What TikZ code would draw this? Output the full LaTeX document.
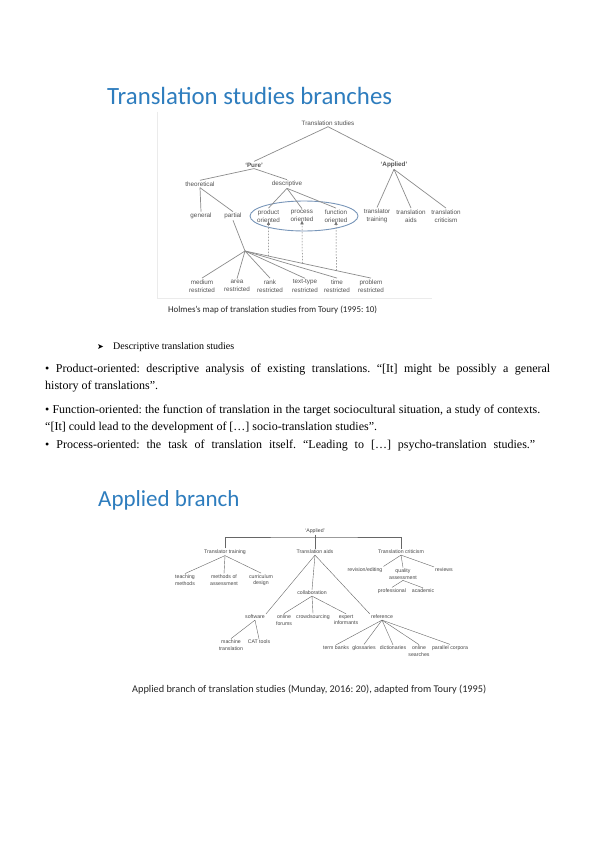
\documentclass[tikz,border=0pt]{standalone}
\usepackage{fontspec}
\setmainfont{Liberation Serif}
\setsansfont{Liberation Sans}
\newfontfamily\calibri{Carlito}
\newfontfamily\dejavu{DejaVu Sans}
\usetikzlibrary{arrows.meta,calc}
\definecolor{titleblue}{RGB}{46,125,190}
\definecolor{ellblue}{RGB}{120,150,185}
\frenchspacing
\begin{document}
\begin{tikzpicture}[x=1pt,y=-1pt,
  tl/.style={font=\sffamily\fontsize{6.3}{8.4}\selectfont, text=black!68, inner sep=1.2pt, align=center},
  tline/.style={draw=black!45, line width=0.7pt},
  dline/.style={draw=black!55, line width=0.5pt, dash pattern=on 1.5pt off 1.5pt, -{Latex[length=4pt,width=3.5pt]}, shorten >=-3pt},
  bl/.style={font=\sffamily\fontsize{5.2}{6.6}\selectfont, text=black!72, inner sep=1pt, align=center},
  bline/.style={draw=black!60, line width=0.4pt},
  body/.style={font=\fontsize{12}{14}\selectfont\frenchspacing, anchor=west, inner sep=0pt},
  ttl/.style={font=\calibri\fontsize{24.8}{28}\selectfont, text=titleblue, anchor=west, inner sep=0pt},
  capt/.style={font=\calibri\fontsize{8.9}{10}\selectfont, text=black!85, anchor=west, inner sep=0pt},
]
\useasboundingbox[fill=white] (0,0) rectangle (599,848);

% ---------- top diagram ----------
\node[ttl] (t1) at (107,96) {Translation studies branches};
\draw[black!8, line width=0.6pt] (157,112) -- (157,298) -- (432,298);

\node[tl] (ts) at (328,123) {Translation studies};
\node[tl] (pure) at (254,165) {\textbf{‘Pure’}};
\node[tl] (appl) at (394,165) {\textbf{‘Applied’}};
\node[tl] (theo) at (200,184) {theoretical};
\node[tl] (desc) at (287,184) {descriptive};
\node[tl] (gen) at (201,216) {general};
\node[tl] (part) at (233,216) {partial};
\node[tl] (prod) at (268.5,216) {product\\oriented};
\node[tl] (proc) at (302,216) {process\\oriented};
\node[tl] (func) at (336,216) {function\\oriented};
\node[tl] (ttr) at (377,216) {translator\\training};
\node[tl] (taid) at (411,216) {translation\\aids};
\node[tl] (tcri) at (446,216) {translation\\criticism};
\coordinate (hub) at (245,251);
\node[tl] (med) at (202,286) {medium\\restricted};
\node[tl] (area) at (237,286) {area\\restricted};
\node[tl] (rank) at (270,286) {rank\\restricted};
\node[tl] (ttyp) at (305,286) {text-type\\restricted};
\node[tl] (tme) at (337,286) {time\\restricted};
\node[tl] (prob) at (371,286) {problem\\restricted};

\draw[ellblue, line width=0.9pt] (304,216) ellipse [x radius=54, y radius=15];

\draw[tline] (ts.south) -- (pure.north);
\draw[tline] (ts.south) -- (appl.north);
\draw[tline] (pure.south) -- (theo.north);
\draw[tline] (pure.south) -- (desc.north);
\draw[tline] (theo.south) -- (gen.north);
\draw[tline] (theo.south) -- (part.north);
\draw[tline] (desc.south) -- (prod.north);
\draw[tline] (desc.south) -- (proc.north);
\draw[tline] (desc.south) -- (func.north);
\draw[tline] (appl.south) -- (ttr.north);
\draw[tline] (appl.south) -- (taid.north);
\draw[tline] (appl.south) -- (tcri.north);
\draw[tline] (part.south) -- (hub);
\foreach \n in {med,area,rank,ttyp,tme,prob} \draw[tline] (hub) -- (\n.north);
\path (hub) -- (prob.north) coordinate[pos=0.187] (d1) coordinate[pos=0.455] (d2) coordinate[pos=0.725] (d3);
\draw[dline] (d1) -- (prod.south);
\draw[dline] (d2) -- (proc.south);
\draw[dline] (d3) -- (func.south);

\node[capt] (c1) at (168,310) {Holmes’s map of translation studies from Toury (1995: 10)};

% ---------- body text ----------
\node[font=\dejavu\fontsize{8}{8}\selectfont, inner sep=0pt, anchor=west] (ar) at (97,347) {➤};
\node[body, font=\fontsize{10}{12}\selectfont] (h) at (113,347) {Descriptive translation studies};
\node[body] (l1) at (45,370) {\hbox to 505pt{• Product-oriented: descriptive analysis of existing translations. “[It] might be possibly a general}};
\node[body] (l2) at (45,387) {history of translations”.};
\node[body] (l3) at (45,411) {\hbox to 495pt{• Function-oriented: the function of translation in the target sociocultural situation, a study of contexts.}};
\node[body] (l4) at (45,428) {“[It] could lead to the development of […] socio-translation studies”.};
\node[body] (l5) at (45,446) {\hbox to 490pt{• Process-oriented: the task of translation itself. “Leading to […] psycho-translation studies.”}};

% ---------- bottom diagram ----------
\node[ttl, font=\calibri\fontsize{23}{26}\selectfont] (t2) at (98,500) {Applied branch};

\node[bl] (ap) at (315,531) {‘Applied’};
\coordinate (bar) at (315,537);
\node[bl] (btt) at (225,552) {Translator training};
\node[bl] (bta) at (315,552) {Translation aids};
\node[bl] (btc) at (401,552) {Translation criticism};

\node[bl] (teach) at (185,580) {teaching\\methods};
\node[bl] (meth) at (224,580) {methods of\\assessment};
\node[bl] (curr) at (261,580) {curriculum\\design};

\node[bl] (rev) at (365,570) {revision/editing};
\node[bl] (qual) at (403,574) {quality\\assessment};
\node[bl] (revw) at (444,570) {reviews};
\node[bl] (prof) at (392,591) {professional};
\node[bl] (acad) at (423,591) {academic};

\node[bl] (coll) at (312,593) {collaboration};
\node[bl] (soft) at (255,617) {software};
\node[bl] (ofor) at (284,620) {online\\forums};
\node[bl] (crowd) at (313,617) {crowdsourcing};
\node[bl] (expt) at (346,620) {expert\\informants};
\node[bl] (ref) at (382,617) {reference};

\node[bl] (mt) at (231,645) {machine\\translation};
\node[bl] (cat) at (259,642) {CAT tools};
\node[bl] (tb) at (336,648) {term banks};
\node[bl] (glo) at (364,648) {glossaries};
\node[bl] (dic) at (393,648) {dictionaries};
\node[bl] (ons) at (419,651) {online\\searches};
\node[bl] (pc) at (450,648) {parallel corpora};

\draw[bline] (btt.north) |- (bar) -| (btc.north);
\draw[bline] (ap.south) -- (bta.north);
\draw[bline] (btt.south) -- (teach.north);
\draw[bline] (btt.south) -- (meth.north);
\draw[bline] (btt.south) -- (curr.north);
\draw[bline] (bta.south) -- (coll.north);
\draw[bline] (bta.south) -- (soft.north east);
\draw[bline] (bta.south) -- (ref.north west);
\draw[bline] (btc.south) -- (rev.north east);
\draw[bline] (btc.south) -- (qual.north);
\draw[bline] (btc.south) -- (revw.north west);
\draw[bline] (qual.south) -- (prof.north);
\draw[bline] (qual.south) -- (acad.north);
\draw[bline] (coll.south) -- (ofor.north);
\draw[bline] (coll.south) -- (crowd.north);
\draw[bline] (coll.south) -- (expt.north);
\draw[bline] (soft.south) -- (mt.north);
\draw[bline] (soft.south) -- (cat.north);
\foreach \n in {tb,glo,dic,ons,pc} \draw[bline] (ref.south) -- (\n.north);

\node[capt, font=\calibri\fontsize{10.3}{12}\selectfont] (c2) at (132,690) {Applied branch of translation studies (Munday, 2016: 20), adapted from Toury (1995)};
\end{tikzpicture}
\end{document}
